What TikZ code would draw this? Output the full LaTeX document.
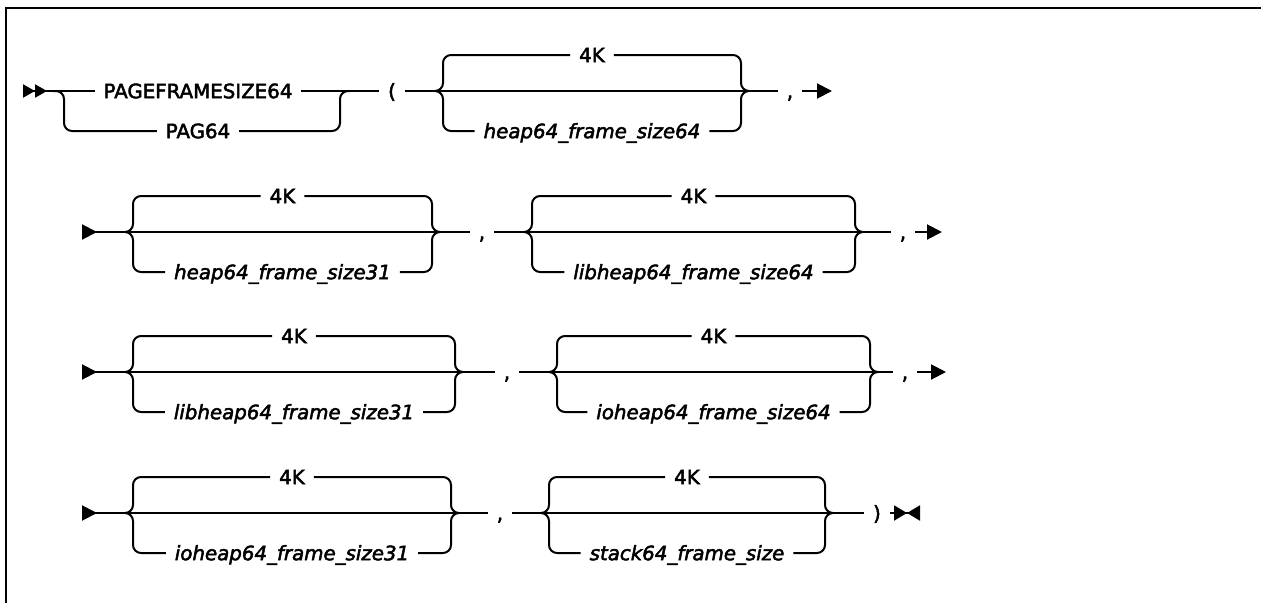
\documentclass[tikz,border=0pt]{standalone}
\usepackage{fontspec}
\setmainfont{DejaVu Sans}[FakeBold=2.5]
\usetikzlibrary{arrows.meta}
\tikzset{
  fwd/.tip={Triangle[length=15pt,width=15pt]},
  bwd/.tip={Triangle[length=15pt,width=15pt,reversed]}
}
\begin{document}
\begin{tikzpicture}[x=1pt, y=-1pt, line width=2pt,
  every node/.style={font=\fontsize{19.8}{24}\selectfont, inner xsep=8pt, inner ysep=0pt, text height=14.4pt, text depth=0pt},
  var/.style={font=\fontsize{19.8}{24}\selectfont\itshape},
  rc/.style={rounded corners=8pt}]
\useasboundingbox (0,0) rectangle (1261,603);
% Frame
\draw[line width=2.6pt] (6,603) -- (6,8) -- (1261,8);
% Optional blocks with default 4K
\foreach \xl/\xr/\y/\v/\n in {443/741/91/heap64\_frame\_size64/1,
    133/432/232/heap64\_frame\_size31/2, 532/855/232/libheap64\_frame\_size64/3,
    133/455/372/libheap64\_frame\_size31/4, 557/870/372/ioheap64\_frame\_size64/5,
    133/451/513/ioheap64\_frame\_size31/6, 549/825/513/stack64\_frame\_size/7} {
  \coordinate (L\n) at (\xl-8,\y);
  \coordinate (R\n) at (\xr+8,\y);
  \node (k\n) at ({(\xl+\xr)/2},\y-36) {4K};
  \node[var] (v\n) at ({(\xl+\xr)/2},\y+40) {\v};
  \draw (L\n) -- (R\n);
  \draw[rc] (L\n) -| (\xl,\y-36) -- (k\n);
  \draw[rc] (k\n) -| (\xr,\y) -- (R\n);
  \draw[rc] (L\n) -| (\xl,\y+40) -- (v\n);
  \draw[rc] (v\n) -| (\xr,\y) -- (R\n);
}
% Row 1
\coordinate (s1) at (23,91);
\coordinate (sp) at (53,91);
\coordinate (jn) at (350,91);
\node (pfs) at (198,91) {PAGEFRAMESIZE64};
\node (pag) at (198,131) {PAG64};
\node (lp) at (392,91) {(};
\node (cm1) at (790,91) {,};
\coordinate (e1) at (832,91);
\draw[{Triangle[length=12pt,width=13pt,reversed]Triangle[length=12pt,width=13pt,reversed]}-] (s1) -- (pfs);
\draw[rc] (sp) -| (64,131) -- (pag);
\draw[rc] (pag) -| (340,91) -- (jn);
\draw (pfs) -- (lp);
\draw (lp) -- (L1);
\draw (R1) -- (cm1);
\draw[-{fwd[]}] (cm1) -- (e1);
% Row 2
\coordinate (s2) at (82,232);
\node (cm2) at (482,232) {,};
\node (cm3) at (903,232) {,};
\coordinate (e2) at (942,232);
\draw[{bwd[]}-] (s2) -- (L2);
\draw (R2) -- (cm2);
\draw (cm2) -- (L3);
\draw (R3) -- (cm3);
\draw[-{fwd[]}] (cm3) -- (e2);
% Row 3
\coordinate (s3) at (82,372);
\node (cm4) at (507,372) {,};
\node (cm5) at (905,372) {,};
\coordinate (e3) at (946,372);
\draw[{bwd[]}-] (s3) -- (L4);
\draw (R4) -- (cm4);
\draw (cm4) -- (L5);
\draw (R5) -- (cm5);
\draw[-{fwd[]}] (cm5) -- (e3);
% Row 4
\coordinate (s4) at (82,513);
\node (cm6) at (500,513) {,};
\node (rp) at (877,513) {)};
\coordinate (e4) at (920,513);
\draw[{bwd[]}-] (s4) -- (L6);
\draw (R6) -- (cm6);
\draw (cm6) -- (L7);
\draw (R7) -- (rp);
\draw[-{Triangle[length=13pt,width=15pt]Triangle[length=13pt,width=15pt,reversed]}] (rp) -- (e4);
\end{tikzpicture}
\end{document}
